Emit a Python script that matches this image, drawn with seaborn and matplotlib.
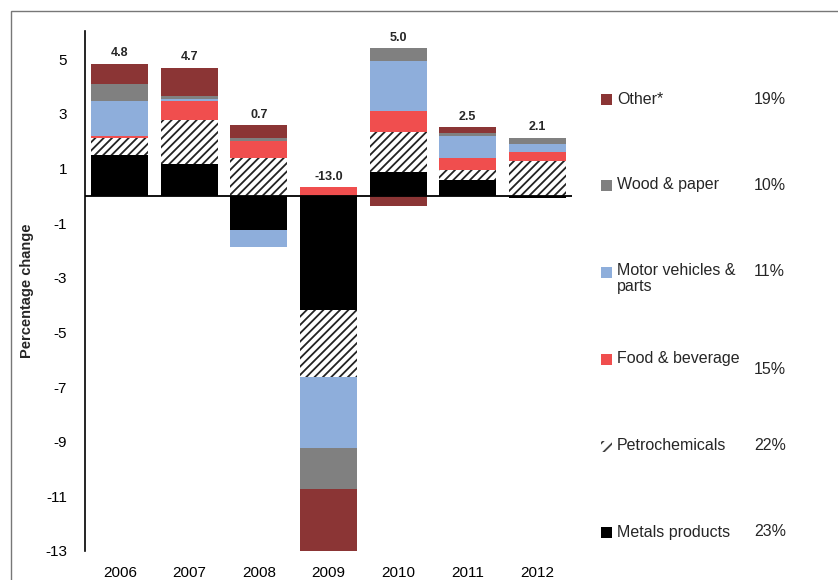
import numpy as np
import matplotlib
matplotlib.use("Agg")
import matplotlib.pyplot as plt
from matplotlib.patches import Rectangle
import seaborn as sns

# -----------------------------------
# Data (percentage-point contributions)
# -----------------------------------

years = ["2006", "2007", "2008", "2009", "2010", "2011", "2012"]

metals = [1.51, 1.17, -1.25, -4.18, 0.88, 0.57, -0.07]
petro = [0.62, 1.60, 1.37, -2.44, 1.46, 0.38, 1.27]
food = [0.06, 0.71, 0.62, 0.33, 0.77, 0.44, 0.35]
motor = [1.29, 0.06, -0.64, -2.60, 1.82, 0.80, 0.28]
wood = [0.61, 0.11, 0.11, -1.51, 0.49, 0.10, 0.23]
other = [0.75, 1.04, 0.50, -2.60, -0.39, 0.23, 0.00]

labels = ["Metals products", "Petrochemicals", "Food & beverage",
          "Motor vehicles &\nparts", "Wood & paper", "Other*"]
weights = ["23%", "22%", "15%", "11%", "10%", "19%"]

colors = ["#000000", "white", "#F04E4E", "#8EAEDB", "#808080", "#8B3535"]
hatches = [None, "////", None, None, None, None]

series = [metals, petro, food, motor, wood, other]

# -----------------------------------
# Plot
# -----------------------------------

sns.set_theme(style="white")
plt.rcParams["font.family"] = ["Liberation Sans", "DejaVu Sans"]
plt.rcParams["hatch.linewidth"] = 1.3

fig = plt.figure(figsize=(8.38, 5.8), dpi=100)
ax = fig.add_axes([85 / 838, 29 / 580, 487 / 838, 520 / 580])

pos_bottom = np.zeros(len(years))
neg_bottom = np.zeros(len(years))

for vals, col, hat in zip(series, colors, hatches):

    vals = np.array(vals)
    bottom = np.where(vals >= 0, pos_bottom, neg_bottom)

    kws = dict(linewidth=0)
    if hat:
        kws.update(hatch=hat, edgecolor="#222222")

    sns.barplot(
        x=years,
        y=vals,
        bottom=bottom,
        color=col,
        saturation=1,
        width=0.82,
        errorbar=None,
        ax=ax,
        **kws
    )

    pos_bottom = pos_bottom + np.where(vals > 0, vals, 0)
    neg_bottom = neg_bottom + np.where(vals < 0, vals, 0)

# total labels
totals = np.sum(series, axis=0)

for i, tot in enumerate(totals):

    ax.annotate(
        f"{tot:.1f}",
        xy=(i, pos_bottom[i]),
        xytext=(0, 3),
        textcoords="offset points",
        ha="center",
        va="bottom",
        fontsize=9,
        fontweight="bold"
    )

ax.axhline(0, color="black", linewidth=1.3)

ax.set_ylim(-13, 6.03)
ax.set_xlim(-0.5, 6.5)
ax.set_yticks(np.arange(5, -14, -2))
ax.set_yticklabels([str(t) for t in range(5, -14, -2)])

ax.tick_params(axis="both", length=0, labelsize=11, colors="black")
ax.tick_params(axis="y", pad=13)
ax.tick_params(axis="x", pad=11)

ax.set_xlabel("")
ax.set_ylabel("Percentage change", fontsize=10.5, fontweight="bold", labelpad=8)

for side in ["top", "right", "bottom"]:
    ax.spines[side].set_visible(False)

ax.spines["left"].set_color("black")
ax.spines["left"].set_linewidth(1.2)

# -----------------------------------
# Legend (drawn manually, top to bottom)
# -----------------------------------

legend_y = [99, 185, 272, 359, 446, 532]
pct_shift = [0, 0, 0, 10, 0, 0]

for k, idx in enumerate(range(5, -1, -1)):

    y = 1 - legend_y[k] / 580
    multi = "\n" in labels[idx]

    fig.patches.append(
        Rectangle(
            (601 / 838, y - 5.5 / 580),
            11 / 838,
            11 / 580,
            transform=fig.transFigure,
            facecolor=colors[idx],
            edgecolor="#444444" if hatches[idx] else "none",
            hatch="///" if hatches[idx] else None,
            linewidth=0
        )
    )

    fig.text(
        617 / 838,
        y + (9 / 580 if multi else 0),
        labels[idx],
        ha="left",
        va="top" if multi else "center",
        fontsize=11.5,
        linespacing=1.1
    )

    fig.text(
        754 / 838,
        y - pct_shift[k] / 580,
        weights[idx],
        ha="left",
        va="center",
        fontsize=11.5
    )

# outer frame of the original chart
fig.patches.append(
    Rectangle(
        (11 / 838, -0.1),
        1.2,
        1.1 - 11 / 580,
        transform=fig.transFigure,
        fill=False,
        edgecolor="#777777",
        linewidth=1
    )
)

fig.savefig("out.png", dpi=100)
